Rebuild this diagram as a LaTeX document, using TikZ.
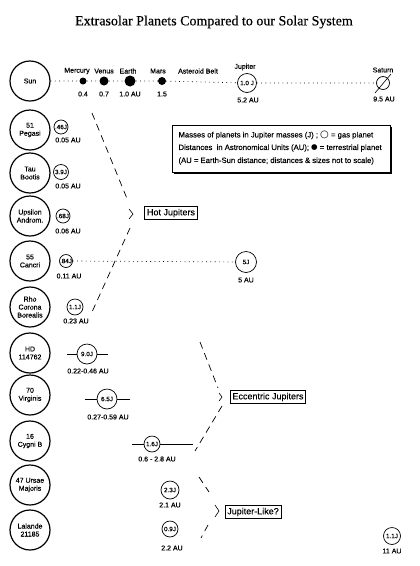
\documentclass[tikz,border=0pt]{standalone}
\usepackage{fontspec}
\setmainfont{Liberation Sans}[FakeBold=0.3]
\newfontfamily\titlefont{Liberation Serif}[FakeBold=0.4]
\newfontfamily\symfont{DejaVu Sans}
\begin{document}
\begin{tikzpicture}[x=1pt,y=-1pt,
  star/.style={draw,circle,line width=1.2pt,minimum size=40pt,inner sep=0pt,align=center,font=\fontsize{7}{8}\selectfont},
  gas/.style={draw,circle,line width=0.7pt,inner sep=0pt,font=\fontsize{6.3}{7}\selectfont},
  rock/.style={circle,fill=black,inner sep=0pt},
  lbl/.style={font=\fontsize{7}{8}\selectfont},
  key/.style={anchor=west,font=\fontsize{7.7}{9}\selectfont},
  group/.style={draw,line width=0.6pt,inner sep=2.2pt,font=\fontsize{9}{10}\selectfont},
  orbit/.style={line width=0.7pt,dash pattern=on 0.8pt off 3.5pt},
  bracket/.style={line width=0.7pt,dash pattern=on 7pt off 5pt},
  ecc/.style={line width=0.6pt}]
\useasboundingbox (0,0) rectangle (420,566);
\node[font=\titlefont\fontsize{14}{16}\selectfont] (title) at (214,22) {Extrasolar Planets Compared to our Solar System};
% our solar system
\node[star] (sun) at (30,81) {Sun};
\node[rock,minimum size=7pt] (mercury) at (83,81) {};
\node[rock,minimum size=9pt] (venus) at (104,81) {};
\node[rock,minimum size=11pt] (earth) at (130,81) {};
\node[rock,minimum size=8pt] (mars) at (162,81) {};
\node[gas,minimum size=19pt] (jupiter) at (247,83) {1.0 J};
\node[gas,minimum size=13pt] (saturn) at (383,83) {};
\coordinate (satA) at (375,93);
\coordinate (satB) at (391,74);
\draw[ecc] (satA) -- (satB);
\draw[orbit] (sun) -- (mercury) -- (venus) -- (earth) -- (mars) -- (jupiter) -- (saturn);
\node[lbl] (lmercury) at (77,71) {Mercury};
\node[lbl] (lvenus) at (104,71) {Venus};
\node[lbl] (learth) at (128,71) {Earth};
\node[lbl] (lmars) at (158,71) {Mars};
\node[lbl] (lbelt) at (198,71) {Asteroid Belt};
\node[lbl] (ljupiter) at (245,67) {Jupiter};
\node[lbl] (lsaturn) at (383,70) {Saturn};
\node[lbl] (dmercury) at (83,94) {0.4};
\node[lbl] (dvenus) at (104,94) {0.7};
\node[lbl] (dearth) at (130,94) {1.0 AU};
\node[lbl] (dmars) at (162,94) {1.5};
\node[lbl] (djupiter) at (248,100) {5.2 AU};
\node[lbl] (dsaturn) at (384,99) {9.5 AU};
% key
\draw[line width=0.6pt] (172,125) rectangle (390,172);
\draw[line width=1.2pt] (391,127) -- (391,173) -- (174,173);
\node[key] (key1) at (175,135) {Masses of planets in Jupiter masses (J) ;\ {\symfont\fontsize{10}{10}\selectfont ○} = gas planet};
\node[key] (key2) at (175,148) {Distances \ in Astronomical Units (AU);\ {\symfont\fontsize{7.5}{8}\selectfont ●} = terrestrial planet};
\node[key] (key3) at (175,161) {(AU = Earth-Sun distance; distances \& sizes not to scale)};
% stars
\node[star] (pegasi) at (30,130) {51\\Pegasi};
\node[star] (tau) at (30,173) {Tau\\Bootis};
\node[star] (upsilon) at (30,216) {Upsilon\\Androm.};
\node[star] (cancri) at (30,261) {55\\Cancri};
\node[star] (rho) at (30,307) {Rho\\Corona\\Borealis};
\node[star] (hd) at (30,353) {HD\\114762};
\node[star] (virginis) at (30,395) {70\\Virginis};
\node[star] (cygni) at (30,441) {16\\Cygni B};
\node[star] (ursae) at (30,485) {47 Ursae\\Majoris};
\node[star] (lalande) at (30,530) {Lalande\\21185};
% hot jupiters
\node[gas,minimum size=14pt] (pegasib) at (61,127) {.46J};
\node[lbl] at (68,140) {0.05 AU};
\node[gas,minimum size=15pt] (taub) at (61,172) {3.9J};
\node[lbl] at (68,186) {0.05 AU};
\node[gas,minimum size=14pt] (upsilonb) at (63,216) {.68J};
\node[lbl] at (68,231) {0.06 AU};
\node[gas,minimum size=13pt] (cancrib) at (66,261) {.84J};
\node[lbl] at (69,276) {0.11 AU};
\node[gas,minimum size=21pt] (cancrid) at (246,262) {5J};
\node[lbl] at (246,280) {5 AU};
\draw[orbit] (cancrib) -- (cancrid);
\node[gas,minimum size=16pt] (rhob) at (75,307) {1.1J};
\node[lbl] at (76,321) {0.23 AU};
% eccentric jupiters
\node[gas,minimum size=20pt] (hdb) at (87,354) {9.0J};
\coordinate (hdL) at (67,354);
\coordinate (hdR) at (108,354);
\draw[ecc] (hdL) -- (hdb) -- (hdR);
\node[lbl] at (88,371) {0.22-0.46 AU};
\node[gas,minimum size=20pt] (virginisb) at (107,399) {6.5J};
\coordinate (virL) at (85,399);
\coordinate (virR) at (130,399);
\draw[ecc] (virL) -- (virginisb) -- (virR);
\node[lbl] at (108,417) {0.27-0.59 AU};
\node[gas,minimum size=16pt] (cygnib) at (152,444) {1.6J};
\coordinate (cygL) at (132,444);
\coordinate (cygR) at (193,444);
\draw[ecc] (cygL) -- (cygnib) -- (cygR);
\node[lbl] at (157,459) {0.6 - 2.8 AU};
% jupiter-like
\node[gas,minimum size=18pt] (ursaeb) at (170,490) {2.3J};
\node[lbl] at (170,505) {2.1 AU};
\node[gas,minimum size=16pt] (lalandeb) at (170,529) {0.9J};
\node[lbl] at (172,548) {2.2 AU};
\node[gas,minimum size=17pt] (lalandec) at (392,536) {1.1J};
\node[lbl] at (392,551) {11 AU};
% groups
\node[group] (hot) at (171,213) {Hot Jupiters};
\node[group] (eccentric) at (268,397) {Eccentric Jupiters};
\node[group] (like) at (253,512) {Jupiter-Like?};
\coordinate (hotA) at (92,113);
\coordinate (hotB) at (128,201);
\coordinate (hotC) at (130,228);
\coordinate (hotD) at (92,312);
\draw[bracket] (hotA) -- (hotB);
\draw[bracket] (hotC) -- (hotD);
\draw[ecc] (129,209) -- (133,214) -- (129,219);
\coordinate (eccA) at (200,342);
\coordinate (eccB) at (218,388);
\coordinate (eccC) at (222,406);
\coordinate (eccD) at (195,451);
\draw[bracket] (eccA) -- (eccB);
\draw[bracket] (eccC) -- (eccD);
\draw[ecc] (219,393) -- (222,397) -- (219,401);
\coordinate (likeA) at (199,477);
\coordinate (likeB) at (209,492);
\coordinate (likeC) at (208,525);
\coordinate (likeD) at (201,538);
\draw[bracket] (likeA) -- (likeB);
\draw[bracket] (likeC) -- (likeD);
\draw[ecc] (215,505) -- (219,511) -- (215,517);
\end{tikzpicture}
\end{document}
